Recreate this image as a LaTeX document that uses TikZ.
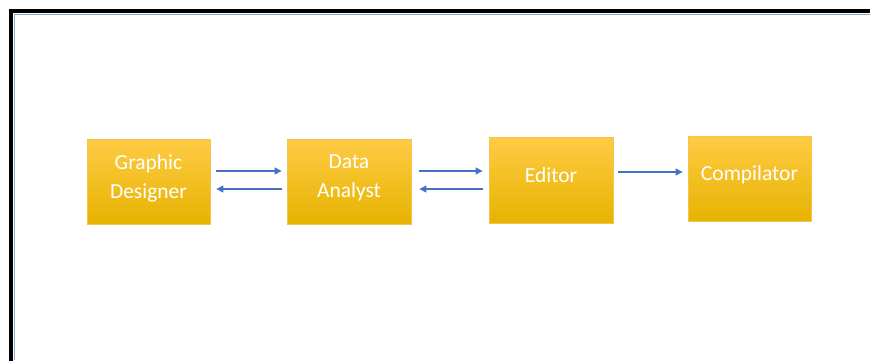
\documentclass[tikz,border=0pt]{standalone}
\usepackage{fontspec}
\setmainfont{Carlito}
\usetikzlibrary{arrows.meta}
\definecolor{arrblue}{HTML}{4472C4}
\definecolor{boxtop}{HTML}{FFCB45}
\definecolor{boxmid}{HTML}{FFC000}
\definecolor{boxbot}{HTML}{E6B300}
\definecolor{boxedge}{HTML}{F4C54E}
\definecolor{frameblue}{HTML}{8EAADB}
\tikzset{
  rolebox/.style={draw=boxedge, line width=0.8pt, top color=boxtop, middle color=boxmid, bottom color=boxbot, inner sep=0pt},
  roletext/.style={text=white, font=\fontsize{21.5}{29}\selectfont, align=center, inner sep=0pt},
  flow/.style={draw=arrblue, line width=1.1pt, -{Triangle[length=7pt,width=7pt]}}
}
\begin{document}
\begin{tikzpicture}[x=1pt,y=-1pt]
\useasboundingbox (0,0) rectangle (870,360);
\fill[white] (0,0) rectangle (870,360);
% frame
\draw[frameblue, line width=1pt] (14,360) -- (14,14) -- (870,14);
\draw[black, line width=4.5pt] (11,362) -- (11,11) -- (872,11);
% boxes
\node[rolebox, minimum width=123pt, minimum height=85pt] (gd) at (148.5,181.5) {};
\node[rolebox, minimum width=124pt, minimum height=85pt] (da) at (349,181.5) {};
\node[rolebox, minimum width=124pt, minimum height=86pt] (ed) at (551,180) {};
\node[rolebox, minimum width=123pt, minimum height=85pt] (co) at (749.5,178.5) {};
% texts
\node[roletext, anchor=base] (gdt) at (148.5,198) {Graphic\\Designer};
\node[roletext, anchor=base] (dat) at (349,197) {Data\\Analyst};
\node[roletext, anchor=base] (edt) at (551,182) {Editor};
\node[roletext, anchor=base] (cot) at (749.5,180) {Compilator};
% connectors
\draw[flow] ([xshift=6pt,yshift=10.5pt]gd.east) -- ([xshift=-5pt,yshift=10.5pt]da.west);
\draw[flow] ([xshift=-5pt,yshift=-7.5pt]da.west) -- ([xshift=6pt,yshift=-7.5pt]gd.east);
\draw[flow] ([xshift=8pt,yshift=10.5pt]da.east) -- ([xshift=-6pt,yshift=9pt]ed.west);
\draw[flow] ([xshift=-6pt,yshift=-9pt]ed.west) -- ([xshift=8pt,yshift=-7.5pt]da.east);
\draw[flow] ([xshift=5pt,yshift=8pt]ed.east) -- ([xshift=-5pt,yshift=6.5pt]co.west);
\end{tikzpicture}
\end{document}
